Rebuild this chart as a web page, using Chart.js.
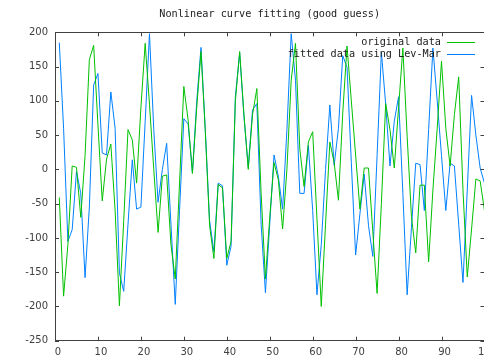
<!DOCTYPE html>
<html>
<head>
<meta charset="utf-8">
<script src="https://cdn.jsdelivr.net/npm/chart.js@4.4.1/dist/chart.umd.min.js"></script>
<style>
  html, body { margin: 0; padding: 0; background: #fff; overflow: hidden; }
  #wrap { width: 500px; height: 357px; }
</style>
</head>
<body>
<div id="wrap"><canvas id="grafico" width="500" height="357"></canvas></div>
<script>
// x positions of the samples
const xs = [
  1, 2, 3, 4, 5, 6, 7, 8, 9, 10, 11, 12, 13, 14, 15, 16, 17, 18, 19, 20,
  21, 22, 23, 24, 25, 26, 27, 28, 29, 30, 31, 32, 33, 34, 35, 36, 37, 38, 39, 40,
  41, 42, 43, 44, 45, 46, 47, 48, 49, 50, 51, 52, 53, 54, 55, 56, 57, 58, 59, 60,
  61, 62, 63, 64, 65, 66, 67, 68, 69, 70, 71, 72, 73, 74, 75, 76, 77, 78, 79, 80,
  81, 82, 83, 84, 85, 86, 87, 88, 89, 90, 91, 92, 93, 94, 95, 96, 97, 98, 99, 100
];

const originalData = [
  -41, -185, -110, 5, 3, -70, 20, 160, 181, 65,
  -46, 15, 37, -60, -199, -75, 58, 43, -20, 90,
  184, 95, 0, -92, -10, -8, -110, -160, -20, 121,
  72, -6, 90, 172, 55, -82, -130, -22, -27, -130,
  -105, 100, 172, 80, 0, 80, 118, -35, -160, -70,
  10, -15, -87, 0, 130, 184, 30, -25, 40, 55,
  -72, -200, -80, 40, 10, -45, 82, 180, 100, 21,
  -58, 2, 2, -91, -181, -50, 96, 58, 2, 90,
  177, 48, -69, -122, -23, -23, -135, -30, 60, 158,
  60, 5, 80, 135, -30, -157, -87, -14, -17, -60
];

const fittedData = [
  185, 60, -105, -88, -3, -35, -158, -55, 123, 140,
  24, 21, 113, 60, -151, -178, -80, 14, -58, -55,
  70, 198, 58, -48, 0, 38, -80, -197, -60, 74,
  66, -5, 99, 178, 58, -75, -120, -20, -24, -140,
  -112, 106, 170, 77, 3, 87, 96, -80, -180, -80,
  21, -10, -58, 58, 198, 130, -35, -35, 35, -60,
  -183, -110, 0, 94, 6, 60, 166, 149, 10, -125,
  -65, -7, -82, -127, 20, 171, 95, 5, 70, 106,
  -35, -183, -85, 9, 7, -60, 58, 177, 100, 20,
  -60, 9, 5, -80, -165, -30, 108, 50, 2, -20
];

const seriesNames = ['original data', 'fitted data using Lev-Mar'];
const seriesColors = ['#00c000', '#0080ff'];

const xTicks = [0, 10, 20, 30, 40, 50, 60, 70, 80, 90, 100];
const yTicks = [-250, -200, -150, -100, -50, 0, 50, 100, 150, 200];

const monoFont = '"DejaVu Sans Mono", monospace';

function pontos(valores) {
  return xs.map((x, i) => ({ x: x, y: valores[i] }));
}

// moldura, marcas internas e legenda no estilo gnuplot
const gnuplotFrame = {
  id: 'gnuplotFrame',
  afterDraw(chart) {
    const ctx = chart.ctx;
    const a = chart.chartArea;
    const sx = chart.scales.x;
    const sy = chart.scales.y;
    ctx.save();
    ctx.strokeStyle = '#404040';
    ctx.lineWidth = 1;
    ctx.beginPath();
    ctx.rect(Math.round(a.left) + 0.5, Math.round(a.top) + 0.5,
      Math.round(a.right - a.left), Math.round(a.bottom - a.top));
    xTicks.forEach(v => {
      const px = Math.round(sx.getPixelForValue(v)) + 0.5;
      ctx.moveTo(px, a.bottom); ctx.lineTo(px, a.bottom - 4);
      ctx.moveTo(px, a.top); ctx.lineTo(px, a.top + 4);
    });
    yTicks.forEach(v => {
      const py = Math.round(sy.getPixelForValue(v)) + 0.5;
      ctx.moveTo(a.left, py); ctx.lineTo(a.left + 4, py);
      ctx.moveTo(a.right, py); ctx.lineTo(a.right - 4, py);
    });
    ctx.stroke();

    ctx.font = '10.2px ' + monoFont;
    ctx.textAlign = 'right';
    ctx.textBaseline = 'middle';
    seriesNames.forEach((nome, i) => {
      const y = 42 + i * 12;
      ctx.fillStyle = '#202020';
      ctx.fillText(nome, 441, y);
      ctx.strokeStyle = seriesColors[i];
      ctx.beginPath();
      ctx.moveTo(447, Math.round(y) + 0.5);
      ctx.lineTo(475, Math.round(y) + 0.5);
      ctx.stroke();
    });
    ctx.restore();
  }
};

new Chart(document.getElementById('grafico'), {
  type: 'line',
  data: {
    datasets: [{
      label: seriesNames[0],
      data: pontos(originalData),
      borderColor: seriesColors[0],
      borderWidth: 1,
      pointRadius: 0,
      tension: 0,
      fill: false
    }, {
      label: seriesNames[1],
      data: pontos(fittedData),
      borderColor: seriesColors[1],
      borderWidth: 1,
      pointRadius: 0,
      tension: 0,
      fill: false
    }]
  },
  options: {
    responsive: false,
    animation: false,
    devicePixelRatio: 1,
    layout: { padding: { left: 0, right: 12, top: 0, bottom: 0 } },
    plugins: {
      legend: { display: false },
      tooltip: { enabled: false },
      title: {
        display: true,
        fullSize: false,
        text: 'Nonlinear curve fitting (good guess)',
        color: '#202020',
        font: { family: monoFont, size: 10.2, weight: 'normal', lineHeight: 1.2 },
        padding: { top: 8, bottom: 12.1 }
      }
    },
    scales: {
      x: {
        type: 'linear',
        min: 0,
        max: 100,
        afterFit(scale) { scale.height = 16.3; },
        grid: { display: false, drawTicks: false },
        border: { display: false },
        ticks: {
          stepSize: 10,
          padding: 6,
          labelOffset: 3,
          maxRotation: 0,
          autoSkip: false,
          color: '#404040',
          font: { family: '"DejaVu Sans", sans-serif', size: 10 }
        }
      },
      y: {
        min: -250,
        max: 200,
        afterFit(scale) { scale.width = 55; },
        grid: { display: false, drawTicks: false },
        border: { display: false },
        ticks: {
          stepSize: 50,
          padding: 7,
          color: '#404040',
          font: { family: '"DejaVu Sans", sans-serif', size: 10 }
        }
      }
    }
  },
  plugins: [gnuplotFrame]
});
</script>
</body>
</html>
